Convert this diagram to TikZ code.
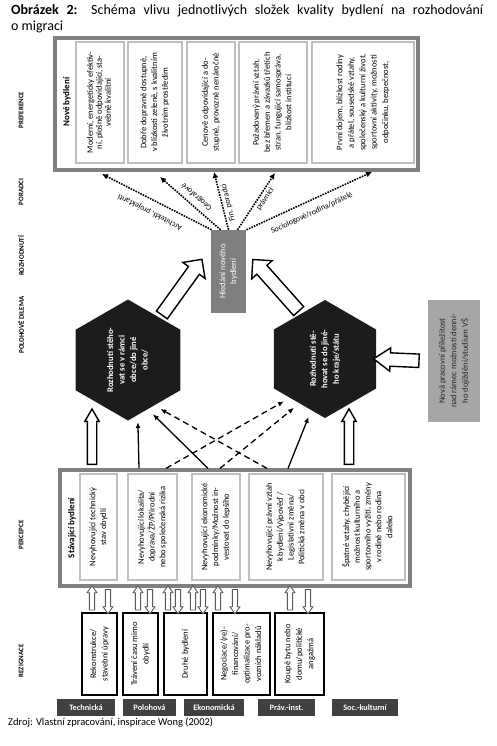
\documentclass[tikz,border=0pt]{standalone}
\usepackage{fontspec}
\setmainfont{Carlito}
\usepackage{graphicx}
\usepackage{tikz}
\usetikzlibrary{arrows.meta,calc,shapes.geometric,shapes.arrows}
\definecolor{MGFrame}{HTML}{808080}
\definecolor{MGInner}{HTML}{BFBFBF}
\definecolor{MGSearch}{HTML}{7F7F7F}
\definecolor{MGJob}{HTML}{A6A6A6}
\definecolor{MGDark}{HTML}{404040}
\definecolor{MGHex}{HTML}{1C1C1C}
\newcommand{\rotlines}[1]{\rotatebox{90}{\begin{tabular}{@{}c@{}}#1\end{tabular}}}
\newcommand{\hollowarrow}[3][]{%
  \path let \p1=(#2), \p2=(#3), \n1={veclen(\x2-\x1,\y2-\y1)} in
    (\p1) -- (\p2) node[hollow, #1, midway, sloped, allow upside down, minimum height=\n1] {};}
\tikzset{
  caption/.style={anchor=north west, text width=472pt, align=justify, inner sep=0pt, font=\fontsize{14}{15.5}\selectfont},
  outerbox/.style={draw=MGFrame, line width=3.2pt, inner sep=0pt},
  innerbox/.style={draw=MGInner, line width=2.5pt, fill=white, inner sep=0pt, font=\fontsize{8.5}{10.8}\selectfont},
  headlabel/.style={rotate=90, inner sep=0pt, font=\bfseries\fontsize{9}{11}\selectfont},
  rowlabel/.style={rotate=90, inner sep=0pt, font=\bfseries\fontsize{7}{8}\selectfont},
  searchbox/.style={fill=MGSearch, text=white, inner sep=0pt, font=\fontsize{8.5}{10.8}\selectfont},
  jobbox/.style={fill=MGJob, text=black!85, inner sep=0pt, font=\fontsize{8.5}{11.5}\selectfont},
  hexnode/.style={regular polygon, regular polygon sides=6, shape border rotate=90, fill=MGHex, text=white, inner sep=0pt, font=\bfseries\fontsize{8.6}{11.5}\selectfont},
  rezbox/.style={draw=black, line width=2.2pt, fill=white, inner sep=0pt, font=\fontsize{8.5}{11.5}\selectfont},
  category/.style={fill=MGDark, text=white, inner sep=0pt, minimum height=17pt, font=\bfseries\fontsize{8.3}{9}\selectfont},
  advice/.style={line width=1.6pt, dash pattern=on 1.6pt off 1.1pt, -{Latex[length=6pt,width=6pt]}},
  advicelabel/.style={sloped, allow upside down, inner sep=2pt, font=\fontsize{8}{9}\selectfont},
  thinarrow/.style={line width=1.3pt, shorten >=7pt, -{Latex[length=6pt,width=5pt]}},
  dasharrow/.style={thinarrow, dash pattern=on 6pt off 4pt},
  hollow/.style={single arrow, draw=black, fill=white, inner xsep=0pt},
  bigarrow/.style={single arrow head extend=7pt, inner ysep=6pt, single arrow tip angle=90, line width=1.4pt},
  sidearrow/.style={single arrow head extend=5pt, inner ysep=6pt, single arrow tip angle=70, line width=1.4pt},
  uparrow/.style={single arrow head extend=2.5pt, inner ysep=4pt, single arrow tip angle=60, line width=1.4pt},
  tinyarrow/.style={draw=black!65, single arrow head extend=2.3pt, inner ysep=2.2pt, single arrow tip angle=70, line width=0.9pt}
}
\begin{document}
\begin{tikzpicture}[x=1pt,y=-1pt]
\useasboundingbox (0,0) rectangle (497,746);
\node[caption] (title) at (11,4.5) {\textbf{Obrázek 2:} Schéma vlivu jednotlivých složek kvality bydlení na rozhodování\linebreak o migraci};

\node[rowlabel] (rowPref) at (21,110) {PREFERENCE};
\node[rowlabel] (rowPor) at (21,192) {PORADCI};
\node[rowlabel] (rowRoz) at (21,256) {ROZHODNUTÍ};
\node[rowlabel] (rowDil) at (21,325) {POLOHOVÉ DILEMA};
\node[rowlabel] (rowPer) at (21,535) {PERCEPCE};
\node[rowlabel] (rowRez) at (21,661) {REZIGNACE};

\node[outerbox, minimum width=363pt, minimum height=132pt] (pref) at (236.5,104) {};
\node[headlabel] (prefHead) at (67,102) {Nové bydlení};
\node[innerbox, minimum width=48pt, minimum height=121pt, font=\fontsize{8.5}{9}\selectfont] (pref1) at (100,102.5) {\rotlines{Moderní, energeticky efektiv-\\ní, plošně odpovídající, sta-\\vebně kvalitní}};
\node[innerbox, minimum width=54pt, minimum height=121pt] (pref2) at (155,102.5) {\rotlines{Dobře dopravně dostupné,\\v blízkosti zeleně, s kvalitním\\životním prostředím}};
\node[innerbox, minimum width=48pt, minimum height=121pt] (pref3) at (211,102.5) {\rotlines{Cenově odpovídající a do-\\stupné, provozně nenáročné}};
\node[innerbox, minimum width=68pt, minimum height=121pt] (pref4) at (273,102.5) {\rotlines{Požadovaný právní vztah,\\bez břemen a závazků třetích\\stran, fungující samospráva,\\blízkost institucí}};
\node[innerbox, minimum width=102pt, minimum height=121pt, font=\fontsize{8.5}{11.4}\selectfont] (pref5) at (363,102.5) {\rotlines{První dojem, blízkost rodiny\\a přátel, sousedské vztahy,\\společenský a kulturní život,\\sportovní aktivity, možnosti\\odpočinku, bezpečnost,}};

\node[searchbox, minimum width=35pt, minimum height=83pt] (search) at (228.5,271.5) {\rotlines{Hledání nového\\bydlení}};

\coordinate (toArch) at (102,174);
\coordinate (toGeo) at (160,177);
\coordinate (toFin) at (214,172);
\coordinate (toPrav) at (275,173);
\coordinate (toSoc) at (372,172);
\draw[advice] ($(search.north)+(-17,0)$) -- (toArch) node[advicelabel, pos=.51, above=6pt] {Architekti, projektanti};
\draw[advice] ($(search.north)+(-8,0)$) -- (toGeo) node[advicelabel, pos=.49, below=3pt] {Geografové};
\draw[advice] ($(search.north)+(0,0)$) -- (toFin) node[advicelabel, pos=.44, below] {Fin. poradci};
\draw[advice] ($(search.north)+(9,0)$) -- (toPrav) node[advicelabel, pos=.6, below] {právníci};
\draw[advice] ($(search.north)+(18,0)$) -- (toSoc) node[advicelabel, pos=.48, below=6pt] {Sociologové/rodina/přátelé};

\node[hexnode, minimum size=121pt] (hexL) at (128,360) {\rotlines{Rozhodnutí stěho-\\vat se v rámci\\obce/do jiné\\obce/}};
\node[hexnode, minimum size=118pt] (hexR) at (325,359) {\rotlines{Rozhodnutí stě-\\hovat se do jiné-\\ho kraje/státu}};
\node[jobbox, minimum width=52pt, minimum height=122pt] (job) at (454,361) {\rotlines{Nová pracovní příležitost\\nad rámec možností denní-\\ho dojíždění/studium VŠ}};

\coordinate (tipL) at (200,262);
\coordinate (tipR) at (255,262);
\hollowarrow[bigarrow]{hexL.53}{tipL}
\hollowarrow[bigarrow]{hexR.118}{tipR}
\hollowarrow[sidearrow]{$(job.west)+(-4,0)$}{$(hexR.east)+(2,0)$}

\node[outerbox, minimum width=350pt, minimum height=116pt] (percep) at (235,528) {};
\node[headlabel] (percepHead) at (72,528) {Stávající bydlení};
\node[innerbox, minimum width=37pt, minimum height=106pt] (perc1) at (98.5,527) {\rotlines{Nevyhovující technický\\stav obydlí}};
\node[innerbox, minimum width=49pt, minimum height=106pt] (perc2) at (152.5,527) {\rotlines{Nevyhovující lokalita/\\doprava/ŽP/Přírodní\\nebo společenská rizika}};
\node[innerbox, minimum width=48pt, minimum height=106pt] (perc3) at (216,527) {\rotlines{Nevyhovující ekonomické\\podmínky/Možnost in-\\vestovat do lepšího}};
\node[innerbox, minimum width=74pt, minimum height=106pt] (perc4) at (286,527) {\rotlines{Nevyhovující právní vztah\\k bydlení/Výpověď /\\Legislativní změna/\\Politická změna v obci}};
\node[innerbox, minimum width=73pt, minimum height=106pt] (perc5) at (368.5,527) {\rotlines{Špatné vztahy, chybějící\\možnost kulturního a\\sportovního vyžití, změny\\v rodině nebo rodina\\daleko}};

\hollowarrow[uparrow]{92,0 |- percep.north}{92,413}
\hollowarrow[uparrow]{349,0 |- percep.north}{349,413}
\draw[thinarrow] (139,0 |- percep.north) -- (hexL.-80);
\draw[thinarrow] (208,0 |- percep.north) -- (hexL.-68);
\draw[dasharrow] (267,0 |- percep.north) -- (hexL.-60);
\draw[thinarrow] (288,0 |- percep.north) -- (hexR.-105);
\draw[dasharrow] (166,0 |- percep.north) -- (hexR.-132);
\draw[dasharrow] (220,0 |- percep.north) -- (hexR.-120);

\node[rezbox, minimum width=35pt, minimum height=82pt] (rez1) at (99.5,654) {\rotlines{Rekonstrukce/\\stavební úpravy}};
\node[rezbox, minimum width=35pt, minimum height=82pt] (rez2) at (140.5,654) {\rotlines{Trávení času mimo\\obydlí}};
\node[rezbox, minimum width=43pt, minimum height=82pt] (rez3) at (185.5,654) {\rotlines{Druhé bydlení}};
\node[rezbox, minimum width=57pt, minimum height=82pt] (rez4) at (241.5,654) {\rotlines{Negociace/(re)-\\financování/\\optimalizace pro-\\vozních nákladů}};
\node[rezbox, minimum width=49pt, minimum height=82pt] (rez5) at (299.5,654) {\rotlines{Koupě bytu nebo\\domu/politické\\angažmá}};

\foreach \xu/\xd/\rb in {92/108/rez1, 138/150/rez2, 168/178/rez3, 193/203/rez3, 218/235/rez4, 290/308/rez5} {
  \hollowarrow[tinyarrow]{\xu,0 |- \rb.north}{\xu,0 |- percep.south}
  \hollowarrow[tinyarrow]{\xd,0 |- percep.south}{\xd,0 |- \rb.north}
}

\node[category, minimum width=58pt] (catTech) at (86,707.5) {Technická};
\node[category, minimum width=53pt] (catPol) at (149.5,707.5) {Polohová};
\node[category, minimum width=60pt] (catEko) at (214,707.5) {Ekonomická};
\node[category, minimum width=57pt] (catPrav) at (286.5,707.5) {Práv.-inst.};
\node[category, minimum width=66pt] (catSoc) at (365,707.5) {Soc.-kulturní};

\node[anchor=west, inner sep=0pt, font=\fontsize{10.5}{12}\selectfont] (source) at (8,723) {Zdroj: Vlastní zpracování, inspirace Wong (2002)};
\end{tikzpicture}
\end{document}
